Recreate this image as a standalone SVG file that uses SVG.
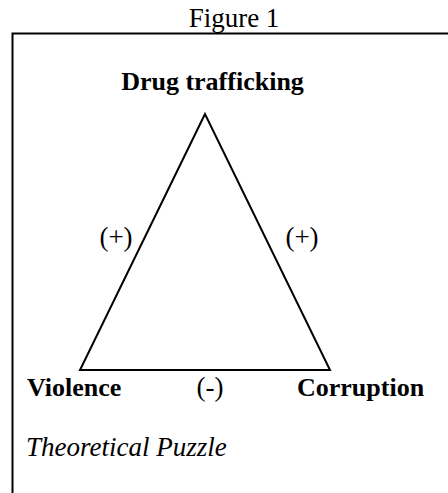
<svg xmlns="http://www.w3.org/2000/svg" width="448" height="493" viewBox="0 0 448 493">
<style>
text{font-family:"Liberation Serif","Times New Roman",serif;fill:#000}
.b{font-weight:bold;font-size:26px}
.n{font-size:27px}
.i{font-style:italic;font-size:27px}
.edge{fill:none;stroke:#000;stroke-width:2}
</style>
<rect width="448" height="493" fill="#fff"/>
<text class="n" x="234" y="27" text-anchor="middle">Figure 1</text>
<rect x="12.5" y="33.5" width="450" height="480" fill="none" stroke="#000" stroke-width="2"/>
<g id="connectors">
<path class="edge" d="M205,114 L80,370 L330,370 Z"/>
</g>
<g id="drug"><text class="b" x="212.5" y="90" text-anchor="middle">Drug trafficking</text></g>
<g id="violence"><text class="b" x="27" y="396">Violence</text></g>
<g id="corruption"><text class="b" x="297" y="396">Corruption</text></g>
<g id="labels">
<text class="n" x="116" y="246" text-anchor="middle">(+)</text>
<text class="n" x="302" y="246" text-anchor="middle">(+)</text>
<text class="n" x="210" y="396" text-anchor="middle">(-)</text>
</g>
<text class="i" x="26" y="456">Theoretical Puzzle</text>
</svg>
